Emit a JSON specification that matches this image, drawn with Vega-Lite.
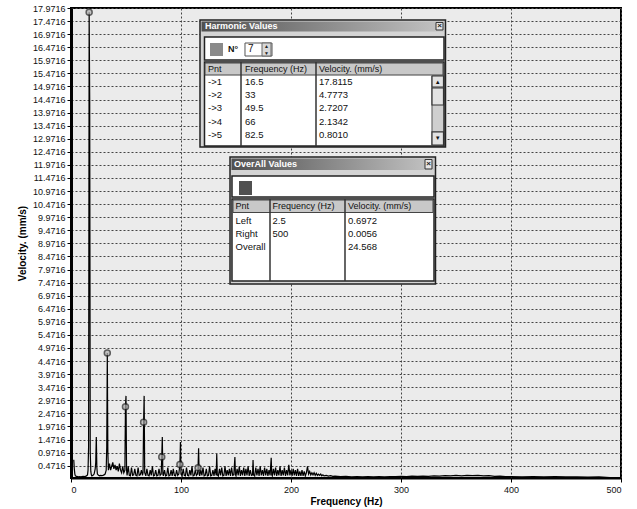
{
"$schema":"https://vega.github.io/schema/vega-lite/v6.json",
"width":550,"height":470,
"autosize":{"type":"none"},
"padding":{"left":71,"top":8,"right":16,"bottom":31},
"background":"#ffffff",
"config":{"view":{"fill":"#ebebeb","stroke":"#000000","strokeWidth":2},"font":"Liberation Sans","text":{"font":"Liberation Sans"}},
"datasets":{
"harmonics":[
{"h":1,"pnt":"->1","f":16.5,"v":17.8115},
{"h":2,"pnt":"->2","f":33,"v":4.7773},
{"h":3,"pnt":"->3","f":49.5,"v":2.7207},
{"h":4,"pnt":"->4","f":66,"v":2.1342},
{"h":5,"pnt":"->5","f":82.5,"v":0.801},
{"h":6,"pnt":"->6","f":99,"v":0.52},
{"h":7,"pnt":"->7","f":115.5,"v":0.39}
],
"overall":[
{"row":1,"pnt":"Left","freq":"2.5","vel":"0.6972"},
{"row":2,"pnt":"Right","freq":"500","vel":"0.0056"},
{"row":3,"pnt":"Overall","freq":"","vel":"24.568"}
],
"spectrum":[
{"f":2.5,"v":0.6972},{"f":3,"v":0.35},{"f":3.5,"v":0.15},{"f":4,"v":0.08},{"f":5,"v":0.06},{"f":6,"v":0.05},{"f":7,"v":0.04},{"f":8,"v":0.05},{"f":9,"v":0.04},{"f":10,"v":0.05},{"f":11,"v":0.06},{"f":12,"v":0.05},{"f":13,"v":0.06},{"f":14,"v":0.08},{"f":15,"v":0.12},{"f":15.5,"v":0.3},{"f":16,"v":1.2},{"f":16.5,"v":17.8115},{"f":17,"v":14.47},{"f":17.5,"v":1.0},{"f":18,"v":0.25},{"f":18.5,"v":0.12},{"f":19,"v":0.08},{"f":20,"v":0.1},{"f":21,"v":0.15},{"f":22,"v":0.35},{"f":22.5,"v":0.6},{"f":23,"v":1.57},{"f":23.5,"v":0.4},{"f":24,"v":0.15},{"f":25,"v":0.1},{"f":26,"v":0.08},{"f":27,"v":0.1},{"f":28,"v":0.09},{"f":29,"v":0.1},{"f":30,"v":0.12},{"f":31,"v":0.15},{"f":32,"v":0.3},{"f":32.5,"v":1.2},{"f":33,"v":4.7773},{"f":33.5,"v":1.0},
{"f":34,"v":0.3},{"f":35,"v":0.55},{"f":36,"v":0.3},{"f":37,"v":0.45},{"f":38,"v":0.6},{"f":39,"v":0.35},{"f":40,"v":0.5},{"f":41,"v":0.3},{"f":42,"v":0.45},{"f":43,"v":0.25},{"f":44,"v":0.55},{"f":45,"v":0.3},{"f":46,"v":0.2},{"f":47,"v":0.45},{"f":48,"v":0.2},{"f":49,"v":0.3},{"f":49.5,"v":2.7207},{"f":50,"v":3.14},{"f":50.5,"v":0.3},
{"f":51,"v":0.1},{"f":52,"v":0.45},{"f":53,"v":0.1},{"f":54,"v":0.08},{"f":55,"v":0.4},{"f":56,"v":0.1},{"f":57,"v":0.12},{"f":58,"v":0.35},{"f":59,"v":0.1},{"f":60,"v":0.08},{"f":61,"v":0.4},{"f":62,"v":0.1},{"f":63,"v":0.12},{"f":64,"v":0.3},{"f":65,"v":0.1},{"f":65.5,"v":0.2},{"f":66,"v":2.1342},{"f":66.5,"v":3.14},{"f":67,"v":0.2},
{"f":68,"v":0.08},{"f":69,"v":0.35},{"f":70,"v":0.1},{"f":71,"v":0.08},{"f":72,"v":0.3},{"f":73,"v":0.1},{"f":74,"v":0.45},{"f":75,"v":0.08},{"f":76,"v":0.1},{"f":77,"v":0.3},{"f":78,"v":0.08},{"f":79,"v":0.1},{"f":80,"v":0.35},{"f":81,"v":0.1},{"f":82,"v":0.15},{"f":82.5,"v":0.801},{"f":83,"v":1.57},{"f":83.5,"v":0.15},
{"f":84,"v":0.08},{"f":85,"v":0.3},{"f":86,"v":0.08},{"f":87,"v":0.1},{"f":88,"v":0.4},{"f":89,"v":0.08},{"f":90,"v":0.1},{"f":91,"v":0.3},{"f":92,"v":0.08},{"f":93,"v":0.35},{"f":94,"v":0.1},{"f":95,"v":0.08},{"f":96,"v":0.3},{"f":97,"v":0.1},{"f":98,"v":0.15},{"f":99,"v":0.52},{"f":99.5,"v":1.38},{"f":100,"v":0.15},
{"f":101,"v":0.08},{"f":102,"v":0.35},{"f":103,"v":0.1},{"f":104,"v":0.08},{"f":105,"v":0.4},{"f":106,"v":0.1},{"f":107,"v":0.08},{"f":108,"v":0.3},{"f":109,"v":0.1},{"f":110,"v":0.45},{"f":111,"v":0.08},{"f":112,"v":0.1},{"f":113,"v":0.3},{"f":114,"v":0.1},{"f":115,"v":0.15},{"f":115.5,"v":0.39},{"f":116,"v":1.14},{"f":116.5,"v":0.15},
{"f":117,"v":0.08},{"f":118,"v":0.3},{"f":119,"v":0.1},{"f":120,"v":0.4},{"f":121,"v":0.08},{"f":122,"v":0.1},{"f":123,"v":0.35},{"f":124,"v":0.08},{"f":125,"v":0.1},{"f":126,"v":0.45},{"f":127,"v":0.08},{"f":128,"v":0.1},{"f":129,"v":0.3},{"f":130,"v":0.08},{"f":131,"v":0.35},{"f":132,"v":0.1},{"f":132.5,"v":0.92},{"f":133,"v":0.12},
{"f":134,"v":0.08},{"f":135,"v":0.35},{"f":136,"v":0.1},{"f":137,"v":0.4},{"f":138,"v":0.08},{"f":139,"v":0.1},{"f":140,"v":0.45},{"f":141,"v":0.08},{"f":142,"v":0.3},{"f":143,"v":0.1},{"f":144,"v":0.35},{"f":145,"v":0.08},{"f":146,"v":0.4},{"f":147,"v":0.1},{"f":148,"v":0.12},{"f":149,"v":0.8},{"f":149.5,"v":0.12},
{"f":150,"v":0.08},{"f":151,"v":0.35},{"f":152,"v":0.1},{"f":153,"v":0.45},{"f":154,"v":0.08},{"f":155,"v":0.3},{"f":156,"v":0.1},{"f":157,"v":0.4},{"f":158,"v":0.08},{"f":159,"v":0.35},{"f":160,"v":0.1},{"f":161,"v":0.45},{"f":162,"v":0.08},{"f":163,"v":0.3},{"f":164,"v":0.1},{"f":165,"v":0.12},{"f":165.5,"v":0.69},{"f":166,"v":0.12},
{"f":167,"v":0.08},{"f":168,"v":0.4},{"f":169,"v":0.1},{"f":170,"v":0.35},{"f":171,"v":0.08},{"f":172,"v":0.45},{"f":173,"v":0.1},{"f":174,"v":0.3},{"f":175,"v":0.08},{"f":176,"v":0.4},{"f":177,"v":0.1},{"f":178,"v":0.35},{"f":179,"v":0.08},{"f":180,"v":0.3},{"f":181,"v":0.1},{"f":182,"v":0.77},{"f":182.5,"v":0.12},
{"f":183,"v":0.08},{"f":184,"v":0.35},{"f":185,"v":0.1},{"f":186,"v":0.4},{"f":187,"v":0.08},{"f":188,"v":0.3},{"f":189,"v":0.1},{"f":190,"v":0.45},{"f":191,"v":0.08},{"f":192,"v":0.3},{"f":193,"v":0.1},{"f":194,"v":0.4},{"f":195,"v":0.08},{"f":196,"v":0.3},{"f":197,"v":0.1},{"f":198,"v":0.5},{"f":199,"v":0.1},{"f":200,"v":0.3},{"f":201,"v":0.08},{"f":202,"v":0.35},{"f":203,"v":0.1},{"f":204,"v":0.3},{"f":205,"v":0.08},{"f":206,"v":0.35},{"f":207,"v":0.08},{"f":208,"v":0.25},{"f":209,"v":0.08},{"f":210,"v":0.3},{"f":211,"v":0.08},{"f":212,"v":0.25},{"f":213,"v":0.08},{"f":214,"v":0.2},{"f":215,"v":0.45},
{"f":216,"v":0.15},{"f":217,"v":0.25},{"f":218,"v":0.12},{"f":219,"v":0.2},{"f":220,"v":0.12},{"f":221,"v":0.2},{"f":222,"v":0.1},{"f":223,"v":0.18},{"f":224,"v":0.1},{"f":225,"v":0.15},{"f":226,"v":0.1},{"f":227,"v":0.15},{"f":228,"v":0.08},{"f":229,"v":0.12},{"f":230,"v":0.08},{"f":232,"v":0.1},{"f":234,"v":0.07},{"f":236,"v":0.09},{"f":238,"v":0.06},{"f":240,"v":0.07},{"f":245,"v":0.05},{"f":250,"v":0.06},{"f":255,"v":0.04},{"f":260,"v":0.05},{"f":265,"v":0.04},{"f":270,"v":0.05},{"f":275,"v":0.04},{"f":280,"v":0.05},{"f":285,"v":0.04},{"f":290,"v":0.05},{"f":295,"v":0.05},{"f":300,"v":0.06},{"f":305,"v":0.05},{"f":310,"v":0.07},{"f":315,"v":0.06},{"f":320,"v":0.07},{"f":325,"v":0.06},{"f":330,"v":0.08},{"f":335,"v":0.07},{"f":340,"v":0.09},{"f":345,"v":0.08},{"f":350,"v":0.1},{"f":355,"v":0.08},{"f":360,"v":0.1},{"f":365,"v":0.09},{"f":370,"v":0.1},{"f":375,"v":0.08},{"f":380,"v":0.09},{"f":385,"v":0.06},{"f":390,"v":0.07},{"f":395,"v":0.05},{"f":400,"v":0.05},{"f":410,"v":0.04},{"f":420,"v":0.05},{"f":430,"v":0.04},{"f":440,"v":0.05},{"f":450,"v":0.04},{"f":460,"v":0.04},{"f":470,"v":0.03},{"f":480,"v":0.04},{"f":490,"v":0.02},{"f":500,"v":0.0056}
]
},
"resolve":{"scale":{"y":"independent"}},
"layer":[
{"layer":[
 {"data":{"name":"spectrum"},
  "mark":{"type":"line","color":"#000000","strokeWidth":1.2,"clip":true},
  "encoding":{
   "x":{"field":"f","type":"quantitative","scale":{"domain":[0,500],"nice":false,"zero":false},
        "axis":{"title":"Frequency (Hz)","values":[0,100,200,300,400,500],"tickCount":10,"format":"d","labelFont":"Liberation Sans","labelFontSize":9,"labelColor":"#111","labelOverlap":false,"titleFont":"Liberation Sans","titleFontSize":10,"titleFontWeight":"bold","titleColor":"#000","titlePadding":2,"tickSize":4,"tickColor":"#000","domainColor":"#000","domainWidth":2,"grid":true,"gridColor":"#444","gridDash":[2,2],"gridWidth":1,"gridOpacity":1,"labelPadding":3}},
   "y":{"field":"v","type":"quantitative","scale":{"domain":[0,17.9716],"nice":false,"zero":true},
        "axis":{"title":"Velocity. (mm/s)","values":[0.4716,0.9716,1.4716,1.9716,2.4716,2.9716,3.4716,3.9716,4.4716,4.9716,5.4716,5.9716,6.4716,6.9716,7.4716,7.9716,8.4716,8.9716,9.4716,9.9716,10.4716,10.9716,11.4716,11.9716,12.4716,12.9716,13.4716,13.9716,14.4716,14.9716,15.4716,15.9716,16.4716,16.9716,17.4716,17.9716],"tickCount":40,"format":".4f","labelOverlap":false,"labelBound":false,"labelFont":"Liberation Sans","labelFontSize":9,"labelColor":"#111","titleFont":"Liberation Sans","titleFontSize":10,"titleFontWeight":"bold","titleColor":"#000","titlePadding":5,"tickSize":4,"tickColor":"#000","domainColor":"#000","domainWidth":3,"grid":true,"gridColor":"#444","gridDash":[2,2],"gridWidth":1,"gridOpacity":1,"labelPadding":2}}
  }},
 {"data":{"name":"harmonics"},
  "mark":{"type":"point","shape":"circle","size":36,"filled":true,"fill":"#b0b0b0","stroke":"#222222","strokeWidth":1.5},
  "encoding":{"x":{"field":"f","type":"quantitative"},"y":{"field":"v","type":"quantitative"}}},
 {"data":{"values":[{}]},
  "layer":[
   {"mark":{"type":"rect","fill":"#d4d4d4","stroke":"#222","strokeWidth":1.5},"encoding":{"x":{"datum":117.27},"x2":{"datum":340.45},"y":{"datum":17.513},"y2":{"datum":12.657}}},
   {"mark":{"type":"rect","fill":{"gradient":"linear","x1":0,"y1":0,"x2":1,"y2":0,"stops":[{"offset":0,"color":"#505050"},{"offset":1,"color":"#c4c4c4"}]}},"encoding":{"x":{"datum":118.64},"x2":{"datum":339.09},"y":{"datum":17.456},"y2":{"datum":17.074}}},
   {"mark":{"type":"text","align":"left","baseline":"middle","fontSize":9,"fontWeight":"bold","color":"#ffffff"},"encoding":{"x":{"datum":121.82},"y":{"datum":17.265},"text":{"value":"Harmonic Values"}}},
   {"mark":{"type":"rect","fill":"#e6e6e6","stroke":"#333","strokeWidth":1},"encoding":{"x":{"datum":331.82},"x2":{"datum":338.18},"y":{"datum":17.418},"y2":{"datum":17.131}}},
   {"mark":{"type":"text","align":"center","baseline":"middle","fontSize":8,"fontWeight":"bold","color":"#222"},"encoding":{"x":{"datum":335.0},"y":{"datum":17.272},"text":{"value":"×"}}},
   {"mark":{"type":"rect","fill":"#ffffff","stroke":"#222","strokeWidth":1.5},"encoding":{"x":{"datum":121.36},"x2":{"datum":339.09},"y":{"datum":16.863},"y2":{"datum":15.983}}},
   {"mark":{"type":"rect","fill":"#8a8a8a"},"encoding":{"x":{"datum":126.36},"x2":{"datum":138.18},"y":{"datum":16.633},"y2":{"datum":16.136}}},
   {"mark":{"type":"text","align":"left","baseline":"middle","fontSize":9,"fontWeight":"bold","color":"#111"},"encoding":{"x":{"datum":142.73},"y":{"datum":16.385},"text":{"value":"N°"}}},
   {"mark":{"type":"rect","fill":"#ffffff","stroke":"#555","strokeWidth":1},"encoding":{"x":{"datum":158.18},"x2":{"datum":182.73},"y":{"datum":16.633},"y2":{"datum":16.136}}},
   {"mark":{"type":"text","align":"left","baseline":"middle","fontSize":10,"color":"#111"},"encoding":{"x":{"datum":160.91},"y":{"datum":16.385},"text":{"value":"7"}}},
   {"mark":{"type":"rect","fill":"#d8d8d8","stroke":"#666","strokeWidth":1},"encoding":{"x":{"datum":173.64},"x2":{"datum":181.82},"y":{"datum":16.633},"y2":{"datum":16.136}}},
   {"mark":{"type":"text","align":"center","baseline":"middle","fontSize":5,"color":"#222"},"encoding":{"x":{"datum":177.73},"y":{"datum":16.5},"text":{"value":"▲"}}},
   {"mark":{"type":"text","align":"center","baseline":"middle","fontSize":5,"color":"#222"},"encoding":{"x":{"datum":177.73},"y":{"datum":16.27},"text":{"value":"▼"}}},
   {"mark":{"type":"rect","fill":"#ffffff","stroke":"#222","strokeWidth":1.5},"encoding":{"x":{"datum":121.36},"x2":{"datum":339.09},"y":{"datum":15.906},"y2":{"datum":12.695}}},
   {"mark":{"type":"rect","fill":"#c8c8c8","stroke":"#444","strokeWidth":1},"encoding":{"x":{"datum":121.82},"x2":{"datum":338.18},"y":{"datum":15.868},"y2":{"datum":15.409}}},
   {"mark":{"type":"rule","color":"#333","strokeWidth":1.5},"encoding":{"x":{"datum":154.55},"y":{"datum":15.906},"y2":{"datum":12.695}}},
   {"mark":{"type":"rule","color":"#333","strokeWidth":1.5},"encoding":{"x":{"datum":222.73},"y":{"datum":15.906},"y2":{"datum":12.695}}},
   {"mark":{"type":"text","align":"left","baseline":"middle","fontSize":9,"color":"#111"},"encoding":{"x":{"datum":124.55},"y":{"datum":15.639},"text":{"value":"Pnt"}}},
   {"mark":{"type":"text","align":"left","baseline":"middle","fontSize":9,"color":"#111"},"encoding":{"x":{"datum":158.18},"y":{"datum":15.639},"text":{"value":"Frequency (Hz)"}}},
   {"mark":{"type":"text","align":"left","baseline":"middle","fontSize":9,"color":"#111"},"encoding":{"x":{"datum":225.45},"y":{"datum":15.639},"text":{"value":"Velocity. (mm/s)"}}},
   {"mark":{"type":"rect","fill":"#cfcfcf","stroke":"#555","strokeWidth":1},"encoding":{"x":{"datum":328.18},"x2":{"datum":338.64},"y":{"datum":15.371},"y2":{"datum":12.733}}},
   {"mark":{"type":"rect","fill":"#e2e2e2","stroke":"#333","strokeWidth":1.2},"encoding":{"x":{"datum":328.18},"x2":{"datum":338.64},"y":{"datum":15.371},"y2":{"datum":14.951}}},
   {"mark":{"type":"rect","fill":"#e2e2e2","stroke":"#333","strokeWidth":1.2},"encoding":{"x":{"datum":328.18},"x2":{"datum":338.64},"y":{"datum":14.912},"y2":{"datum":14.263}}},
   {"mark":{"type":"rect","fill":"#e2e2e2","stroke":"#333","strokeWidth":1.2},"encoding":{"x":{"datum":328.18},"x2":{"datum":338.64},"y":{"datum":13.233},"y2":{"datum":12.733}}},
   {"mark":{"type":"text","align":"center","baseline":"middle","fontSize":6,"color":"#111"},"encoding":{"x":{"datum":333.41},"y":{"datum":15.161},"text":{"value":"▲"}}},
   {"mark":{"type":"text","align":"center","baseline":"middle","fontSize":6,"color":"#111"},"encoding":{"x":{"datum":333.41},"y":{"datum":12.983},"text":{"value":"▼"}}},

   {"mark":{"type":"rect","fill":"#d4d4d4","stroke":"#222","strokeWidth":1.5},"encoding":{"x":{"datum":144.55},"x2":{"datum":331.36},"y":{"datum":12.274},"y2":{"datum":7.418}}},
   {"mark":{"type":"rect","fill":{"gradient":"linear","x1":0,"y1":0,"x2":1,"y2":0,"stops":[{"offset":0,"color":"#505050"},{"offset":1,"color":"#c4c4c4"}]}},"encoding":{"x":{"datum":145.91},"x2":{"datum":330.0},"y":{"datum":12.217},"y2":{"datum":11.777}}},
   {"mark":{"type":"text","align":"left","baseline":"middle","fontSize":9,"fontWeight":"bold","color":"#ffffff"},"encoding":{"x":{"datum":148.18},"y":{"datum":11.988},"text":{"value":"OverAll Values"}}},
   {"mark":{"type":"rect","fill":"#e6e6e6","stroke":"#333","strokeWidth":1},"encoding":{"x":{"datum":321.82},"x2":{"datum":328.18},"y":{"datum":12.179},"y2":{"datum":11.816}}},
   {"mark":{"type":"text","align":"center","baseline":"middle","fontSize":8,"fontWeight":"bold","color":"#222"},"encoding":{"x":{"datum":325.0},"y":{"datum":11.995},"text":{"value":"×"}}},
   {"mark":{"type":"rect","fill":"#ffffff","stroke":"#222","strokeWidth":1.5},"encoding":{"x":{"datum":146.36},"x2":{"datum":330.0},"y":{"datum":11.548},"y2":{"datum":10.745}}},
   {"mark":{"type":"rect","fill":"#505050"},"encoding":{"x":{"datum":152.73},"x2":{"datum":164.55},"y":{"datum":11.357},"y2":{"datum":10.821}}},
   {"mark":{"type":"rect","fill":"#ffffff","stroke":"#222","strokeWidth":1.5},"encoding":{"x":{"datum":146.36},"x2":{"datum":330.0},"y":{"datum":10.668},"y2":{"datum":7.533}}},
   {"mark":{"type":"rect","fill":"#c8c8c8","stroke":"#444","strokeWidth":1},"encoding":{"x":{"datum":147.27},"x2":{"datum":329.09},"y":{"datum":10.63},"y2":{"datum":10.152}}},
   {"mark":{"type":"rule","color":"#333","strokeWidth":1.5},"encoding":{"x":{"datum":180.91},"y":{"datum":10.668},"y2":{"datum":7.533}}},
   {"mark":{"type":"rule","color":"#333","strokeWidth":1.5},"encoding":{"x":{"datum":249.09},"y":{"datum":10.668},"y2":{"datum":7.533}}},
   {"mark":{"type":"text","align":"left","baseline":"middle","fontSize":9,"color":"#111"},"encoding":{"x":{"datum":149.55},"y":{"datum":10.382},"text":{"value":"Pnt"}}},
   {"mark":{"type":"text","align":"left","baseline":"middle","fontSize":9,"color":"#111"},"encoding":{"x":{"datum":183.18},"y":{"datum":10.382},"text":{"value":"Frequency (Hz)"}}},
   {"mark":{"type":"text","align":"left","baseline":"middle","fontSize":9,"color":"#111"},"encoding":{"x":{"datum":251.82},"y":{"datum":10.382},"text":{"value":"Velocity. (mm/s)"}}}
  ]}
]},
{"data":{"name":"harmonics"},
 "transform":[{"filter":"datum.h <= 5"}],
 "encoding":{"y":{"field":"h","type":"quantitative","scale":{"domain":[-4.5,30.575],"reverse":true,"zero":false,"nice":false},"axis":null}},
 "layer":[
  {"mark":{"type":"text","align":"left","baseline":"middle","fontSize":9.5,"color":"#111"},"encoding":{"x":{"datum":124.55},"text":{"field":"pnt","type":"nominal"}}},
  {"mark":{"type":"text","align":"left","baseline":"middle","fontSize":9.5,"color":"#111"},"encoding":{"x":{"datum":158.18},"text":{"field":"f","type":"quantitative","format":"~g"}}},
  {"mark":{"type":"text","align":"left","baseline":"middle","fontSize":9.5,"color":"#111"},"encoding":{"x":{"datum":225.45},"text":{"field":"v","type":"quantitative","format":".4f"}}}
 ]},
{"data":{"name":"overall"},
 "encoding":{"y":{"field":"row","type":"quantitative","scale":{"domain":[-14.992,20.346],"reverse":true,"zero":false,"nice":false},"axis":null}},
 "layer":[
  {"mark":{"type":"text","align":"left","baseline":"middle","fontSize":9.5,"color":"#111"},"encoding":{"x":{"datum":149.55},"text":{"field":"pnt","type":"nominal"}}},
  {"mark":{"type":"text","align":"left","baseline":"middle","fontSize":9.5,"color":"#111"},"encoding":{"x":{"datum":183.18},"text":{"field":"freq","type":"nominal"}}},
  {"mark":{"type":"text","align":"left","baseline":"middle","fontSize":9.5,"color":"#111"},"encoding":{"x":{"datum":251.82},"text":{"field":"vel","type":"nominal"}}}
 ]}
]
}
